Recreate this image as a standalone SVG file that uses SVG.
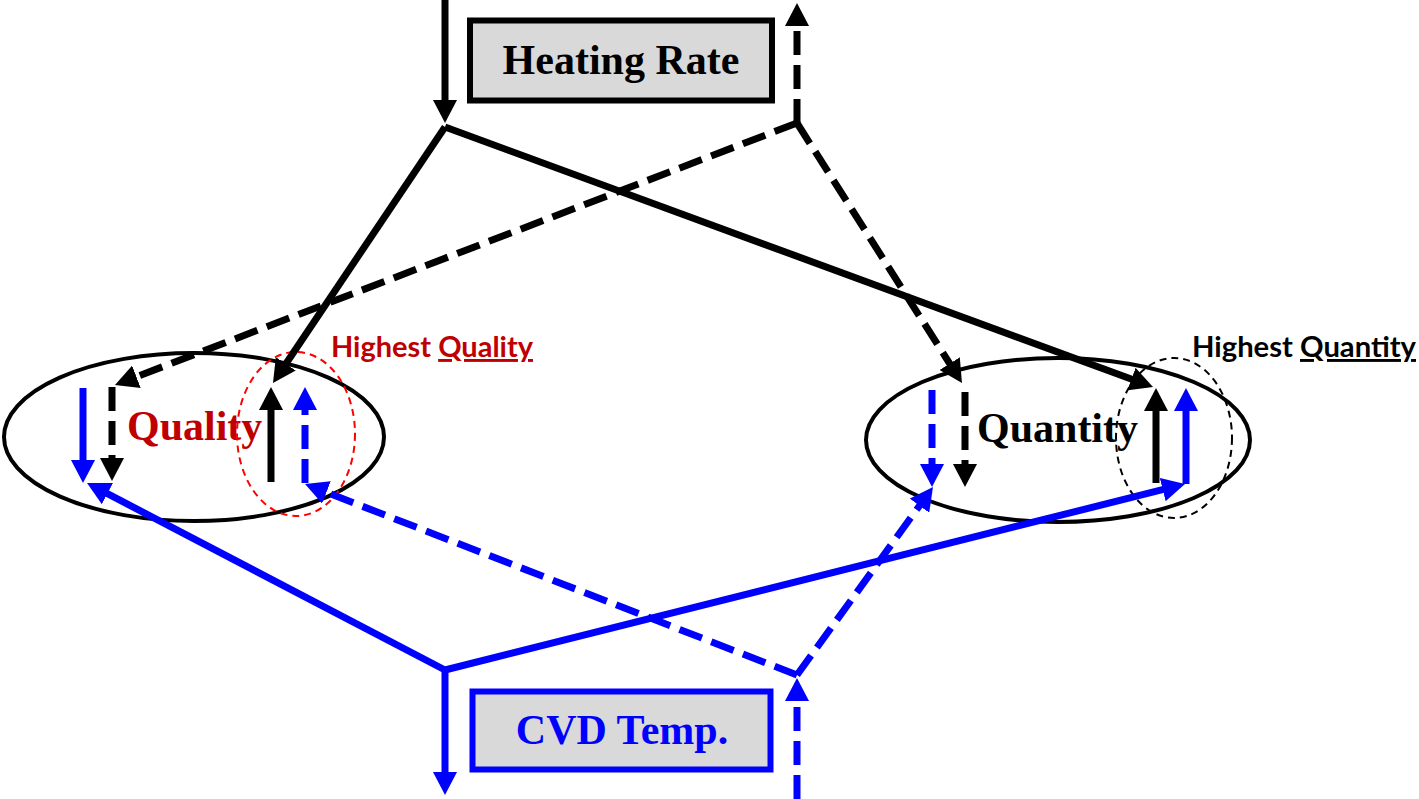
<svg xmlns="http://www.w3.org/2000/svg" width="1419" height="799" viewBox="0 0 1419 799">
<style>
.k{stroke:#000;fill:none;stroke-width:7}
.b{stroke:#0000ff;fill:none;stroke-width:7}
.d{stroke-dasharray:24 10}
.lbl{font-family:"Liberation Serif","Times New Roman",serif;font-weight:bold;font-size:42px}
.hl{font-family:"Lato","Liberation Sans",sans-serif;font-weight:bold;font-size:29px}
.ell{fill:none;stroke:#000;stroke-width:4}
</style>
<defs>
<marker id="ak" markerUnits="userSpaceOnUse" markerWidth="23" markerHeight="24" refX="7" refY="12" orient="auto"><path d="M0,0 L23,12 L0,24 z" fill="#000"/></marker>
<marker id="ab" markerUnits="userSpaceOnUse" markerWidth="23" markerHeight="24" refX="7" refY="12" orient="auto"><path d="M0,0 L23,12 L0,24 z" fill="#0000ff"/></marker>
</defs>
<rect width="1419" height="799" fill="#fff"/>
<g id="node-quality">
<ellipse class="ell" cx="194" cy="437" rx="190" ry="84"/>
<text class="lbl" x="127" y="440" fill="#c00000">Quality</text>
</g>
<g id="node-quantity">
<ellipse class="ell" cx="1058" cy="440" rx="192" ry="82"/>
<text class="lbl" x="977" y="442" fill="#000">Quantity</text>
</g>
<g id="node-heating">
<rect x="470" y="20.5" width="302" height="80" fill="#d9d9d9" stroke="#000" stroke-width="6"/>
<text class="lbl" x="621" y="74" text-anchor="middle" fill="#000">Heating Rate</text>
</g>
<g id="node-cvd">
<rect x="472.5" y="691.5" width="298" height="78" fill="#d9d9d9" stroke="#0000ff" stroke-width="6"/>
<text class="lbl" x="622" y="744" text-anchor="middle" fill="#0000ff">CVD Temp.</text>
</g>
<g id="node-highest-quality">
<ellipse cx="296" cy="434" rx="59" ry="82" fill="none" stroke="#ff0000" stroke-width="2" stroke-dasharray="7 5"/>
<text class="hl" x="331" y="357" fill="#c00000" textLength="202" lengthAdjust="spacingAndGlyphs">Highest <tspan text-decoration="underline">Quality</tspan></text>
</g>
<g id="node-highest-quantity">
<ellipse cx="1174" cy="438" rx="58" ry="80" fill="none" stroke="#000" stroke-width="2" stroke-dasharray="7 5"/>
<text class="hl" x="1192" y="357" fill="#000" textLength="224" lengthAdjust="spacingAndGlyphs">Highest <tspan text-decoration="underline">Quantity</tspan></text>
</g>
<g id="connectors">
<line class="k" x1="445" y1="0" x2="445" y2="107" marker-end="url(#ak)"/>
<line class="k d" x1="797" y1="123" x2="797" y2="19" marker-end="url(#ak)"/>
<line class="k" x1="445" y1="127" x2="281.9" y2="369.7" marker-end="url(#ak)"/>
<line class="k" x1="445" y1="127" x2="1138" y2="381.5" marker-end="url(#ak)"/>
<line class="k d" x1="797" y1="123" x2="129.9" y2="379.3" marker-end="url(#ak)"/>
<line class="k d" x1="797" y1="123" x2="953.4" y2="369.5" marker-end="url(#ak)"/>
<line class="b" x1="445" y1="670" x2="445" y2="779" marker-end="url(#ab)"/>
<line class="b d" x1="797" y1="799" x2="797" y2="694" marker-end="url(#ab)"/>
<line class="b" x1="445" y1="670" x2="101.2" y2="490.4" marker-end="url(#ab)"/>
<line class="b" x1="445" y1="670" x2="1169.5" y2="487.9" marker-end="url(#ab)"/>
<line class="b d" x1="797" y1="675" x2="319.9" y2="489.8" marker-end="url(#ab)"/>
<line class="b d" x1="797" y1="675" x2="923.6" y2="500" marker-end="url(#ab)"/>
<line class="b" x1="83" y1="388" x2="83" y2="467" marker-end="url(#ab)"/>
<line class="k d" x1="112" y1="387" x2="112" y2="465" stroke-dasharray="22 10" marker-end="url(#ak)"/>
<line class="k" x1="271" y1="482" x2="271" y2="403" marker-end="url(#ak)"/>
<line class="b d" x1="305" y1="483" x2="305" y2="403" stroke-dasharray="22 10" marker-end="url(#ab)"/>
<line class="b d" x1="932" y1="390" x2="932" y2="471" stroke-dasharray="22 10" marker-end="url(#ab)"/>
<line class="k d" x1="965" y1="392" x2="965" y2="471" stroke-dasharray="22 10" marker-end="url(#ak)"/>
<line class="k" x1="1156" y1="483" x2="1156" y2="404" marker-end="url(#ak)"/>
<line class="b" x1="1186" y1="484" x2="1186" y2="404" marker-end="url(#ab)"/>
</g>
</svg>
